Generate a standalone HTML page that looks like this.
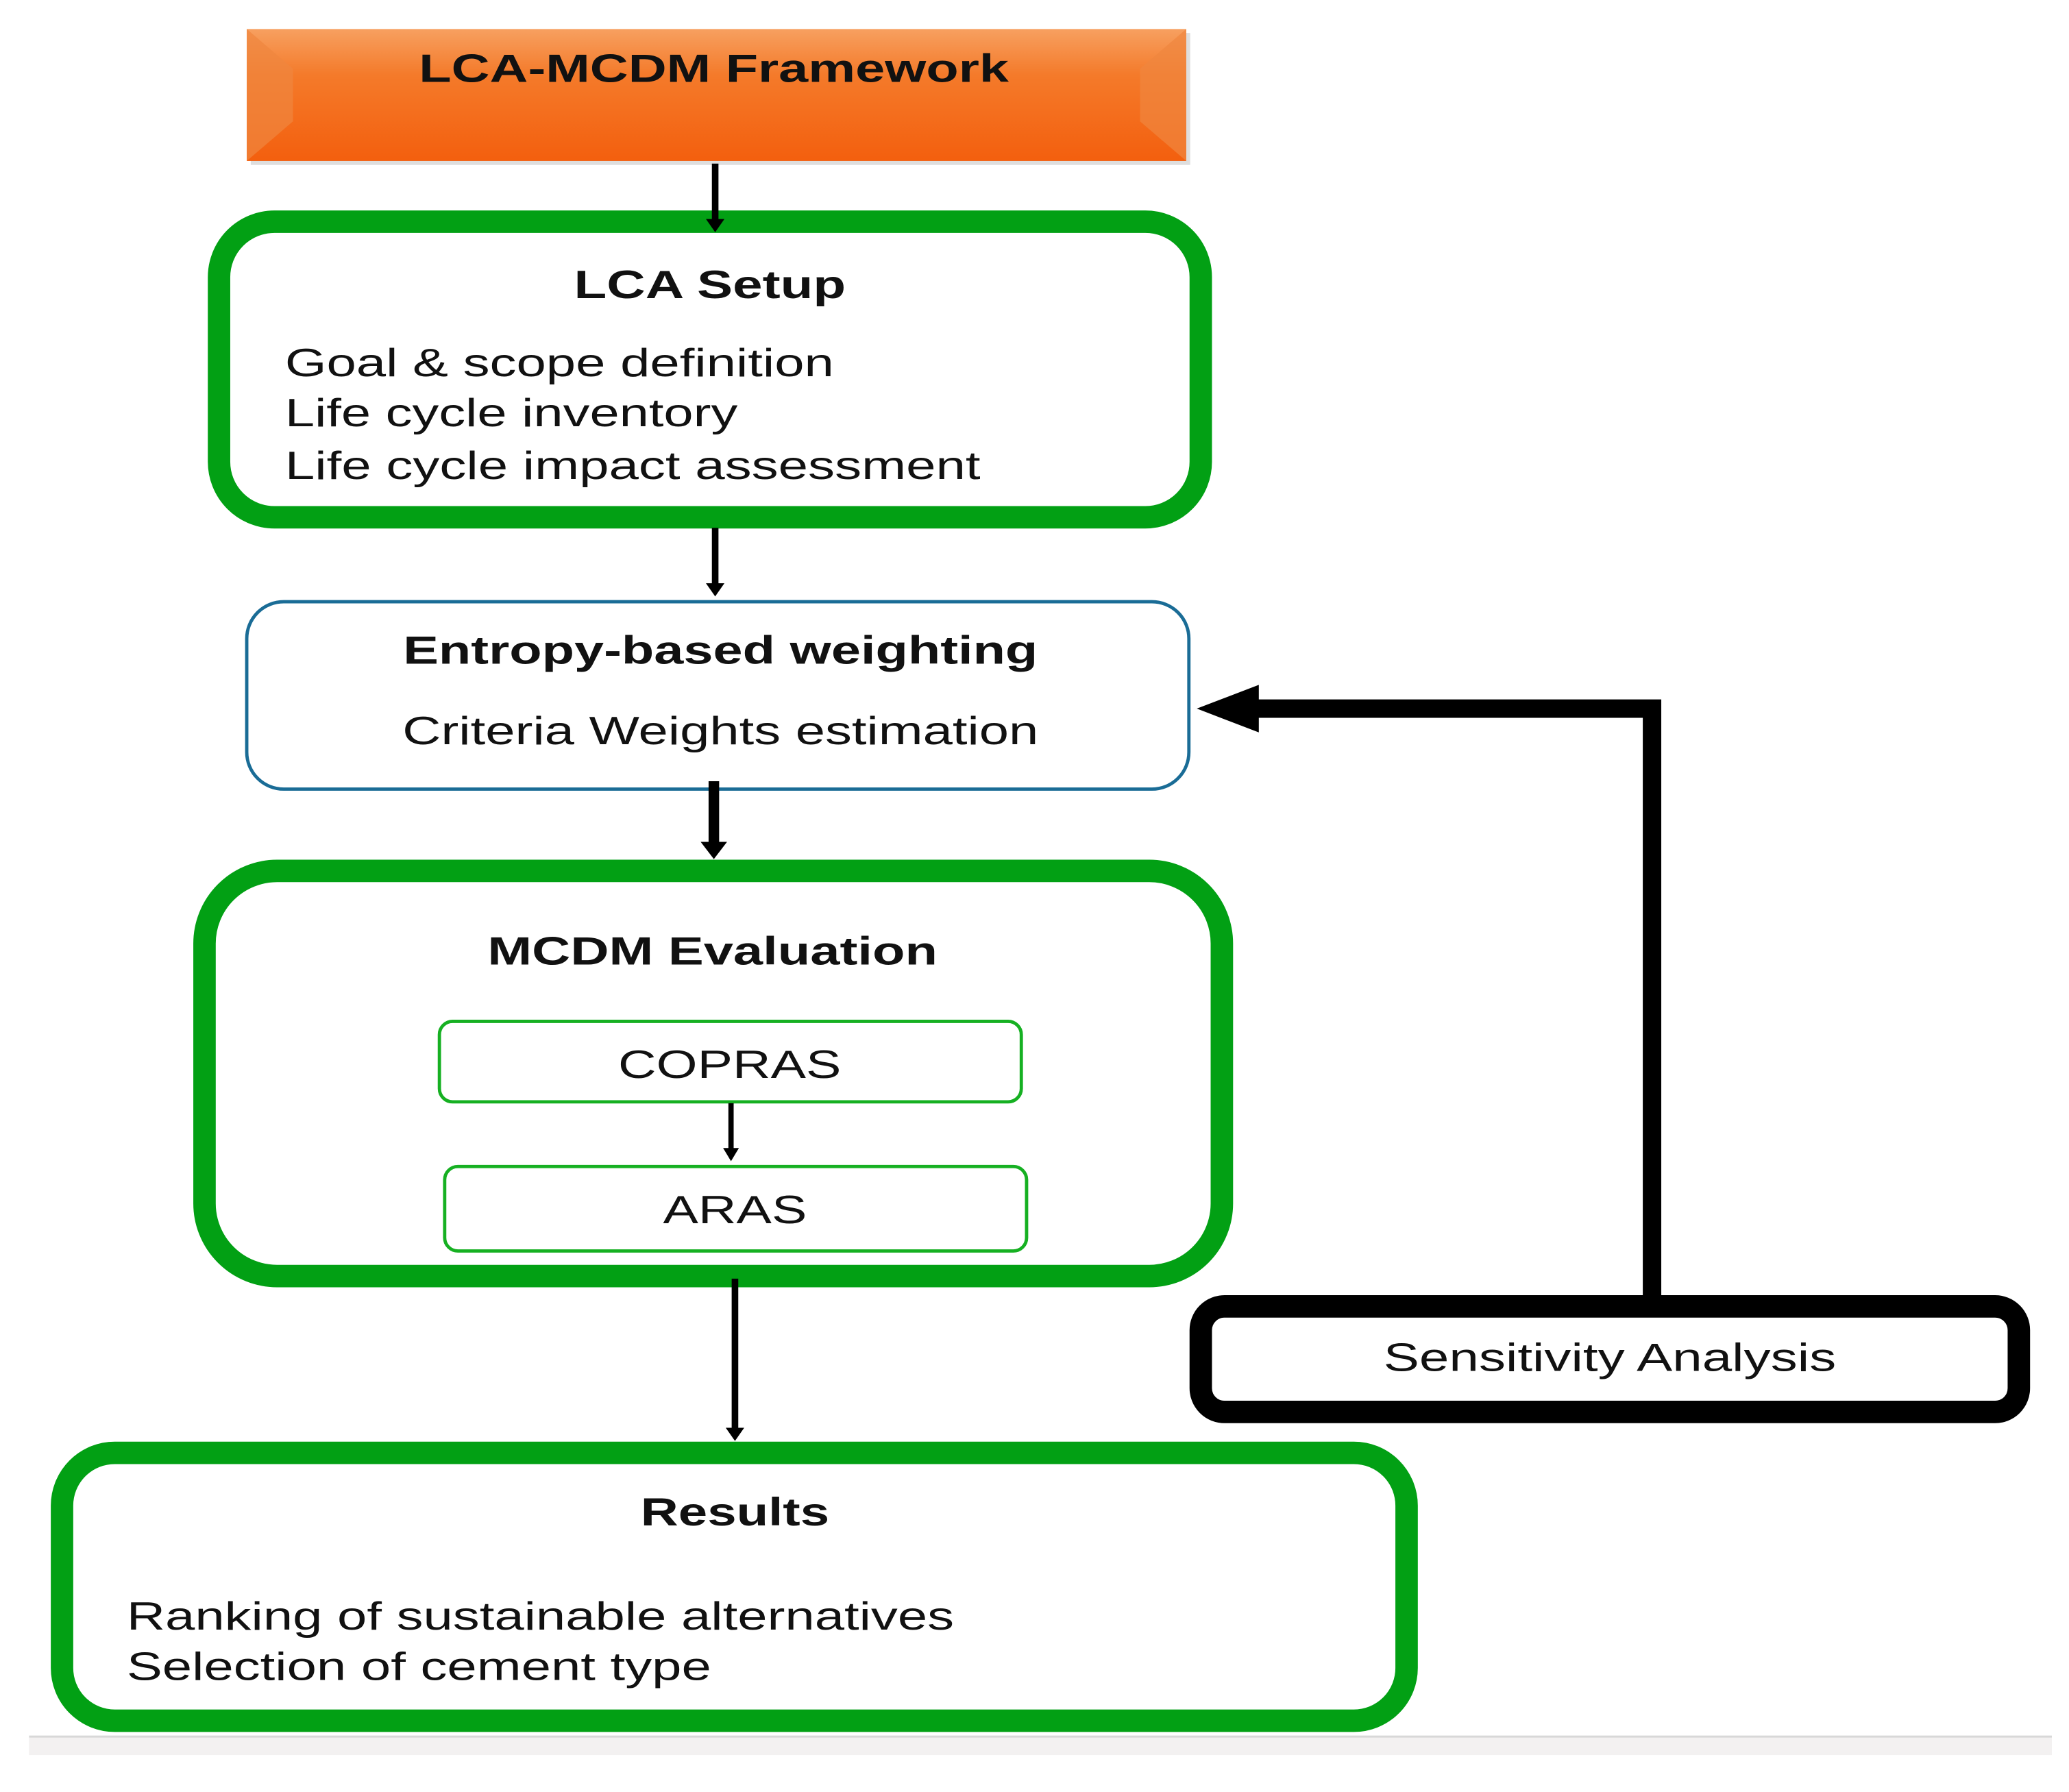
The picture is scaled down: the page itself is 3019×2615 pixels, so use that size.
<!DOCTYPE html>
<html><head><meta charset="utf-8"><style>
html,body{margin:0;padding:0;background:#fff;}
svg{display:block;}
text{font-family:"Liberation Sans",Arial,sans-serif;fill:#111;}
</style></head><body>
<svg width="3019" height="2615" viewBox="0 0 1568 1358" preserveAspectRatio="none" xmlns="http://www.w3.org/2000/svg">
<defs>
<linearGradient id="og" x1="0" y1="0" x2="0" y2="1">
<stop offset="0" stop-color="#f7a060"/><stop offset="0.35" stop-color="#f47a2a"/><stop offset="1" stop-color="#f35f0e"/>
</linearGradient>
</defs>
<!-- orange header -->
<rect x="190" y="25" width="712" height="100" fill="#c8c8c8" opacity="0.6"/>
<rect x="187" y="22" width="712" height="100" fill="url(#og)"/>
<polygon points="187,22 222,52 222,92 187,122" fill="#f0863f" opacity="0.7"/>
<polygon points="899,22 864,52 864,92 899,122" fill="#f0863f" opacity="0.7"/>
<text x="541" y="62" font-size="30" font-weight="bold" text-anchor="middle" textLength="447" lengthAdjust="spacingAndGlyphs">LCA-MCDM Framework</text>

<!-- LCA Setup -->
<rect x="166" y="168" width="744" height="224" rx="42" fill="#fff" stroke="#02a014" stroke-width="17"/>
<text x="538" y="226" font-size="30" font-weight="bold" text-anchor="middle" textLength="206" lengthAdjust="spacingAndGlyphs">LCA Setup</text>
<text x="216" y="285" font-size="30" textLength="416" lengthAdjust="spacingAndGlyphs">Goal &amp; scope definition</text>
<text x="216" y="323" font-size="30" textLength="343" lengthAdjust="spacingAndGlyphs">Life cycle inventory</text>
<text x="216" y="363" font-size="30" textLength="527" lengthAdjust="spacingAndGlyphs">Life cycle impact assessment</text>

<!-- Entropy -->
<rect x="187" y="456" width="714" height="142" rx="28" fill="#fff" stroke="#1a6c96" stroke-width="2.5"/>
<text x="546" y="503" font-size="30" font-weight="bold" text-anchor="middle" textLength="481" lengthAdjust="spacingAndGlyphs">Entropy-based weighting</text>
<text x="546" y="564" font-size="30" text-anchor="middle" textLength="482" lengthAdjust="spacingAndGlyphs">Criteria Weights estimation</text>

<!-- MCDM -->
<rect x="155" y="660" width="771" height="307" rx="55" fill="#fff" stroke="#02a014" stroke-width="17"/>
<text x="540" y="731" font-size="30" font-weight="bold" text-anchor="middle" textLength="341" lengthAdjust="spacingAndGlyphs">MCDM Evaluation</text>
<rect x="333" y="774" width="441" height="61" rx="10" fill="#fff" stroke="#16b022" stroke-width="2.5"/>
<text x="553" y="817" font-size="30" text-anchor="middle" textLength="169" lengthAdjust="spacingAndGlyphs">COPRAS</text>
<rect x="337" y="884" width="441" height="64" rx="10" fill="#fff" stroke="#16b022" stroke-width="2.5"/>
<text x="557" y="927" font-size="30" text-anchor="middle" textLength="109" lengthAdjust="spacingAndGlyphs">ARAS</text>

<!-- Results -->
<rect x="47" y="1101" width="1019" height="203" rx="40" fill="#fff" stroke="#02a014" stroke-width="17"/>
<text x="557" y="1156" font-size="30" font-weight="bold" text-anchor="middle" textLength="143" lengthAdjust="spacingAndGlyphs">Results</text>
<text x="96" y="1235" font-size="30" textLength="627" lengthAdjust="spacingAndGlyphs">Ranking of sustainable alternatives</text>
<text x="96" y="1273" font-size="30" textLength="443" lengthAdjust="spacingAndGlyphs">Selection of cement type</text>

<!-- Sensitivity -->
<rect x="910" y="990" width="620" height="80" rx="18" fill="#fff" stroke="#000" stroke-width="17"/>
<text x="1220" y="1039" font-size="30" text-anchor="middle" textLength="343" lengthAdjust="spacingAndGlyphs">Sensitivity Analysis</text>

<!-- arrows (drawn on top) -->
<line x1="542" y1="124" x2="542" y2="168" stroke="#000" stroke-width="5"/>
<polygon points="535,166 549,166 542,176" fill="#000"/>
<line x1="542" y1="400" x2="542" y2="444" stroke="#000" stroke-width="5"/>
<polygon points="535,442 549,442 542,452" fill="#000"/>
<line x1="541" y1="592" x2="541" y2="640" stroke="#000" stroke-width="8"/>
<polygon points="531,638 551,638 541,651" fill="#000"/>
<line x1="554" y1="836" x2="554" y2="872" stroke="#000" stroke-width="4"/>
<polygon points="548,870 560,870 554,880" fill="#000"/>
<line x1="557" y1="969" x2="557" y2="1084" stroke="#000" stroke-width="5"/>
<polygon points="550,1082 564,1082 557,1092" fill="#000"/>

<!-- feedback -->
<polyline points="1252,984 1252,537 950,537" fill="none" stroke="#000" stroke-width="14"/>
<polygon points="907,537 954,519 954,555" fill="#000"/>

<!-- bottom band -->
<rect x="22" y="1316" width="1533" height="14" fill="#f3f1f1"/>
<line x1="22" y1="1316" x2="1555" y2="1316" stroke="#d8d8d8" stroke-width="1.5"/>
</svg>
</body></html>
